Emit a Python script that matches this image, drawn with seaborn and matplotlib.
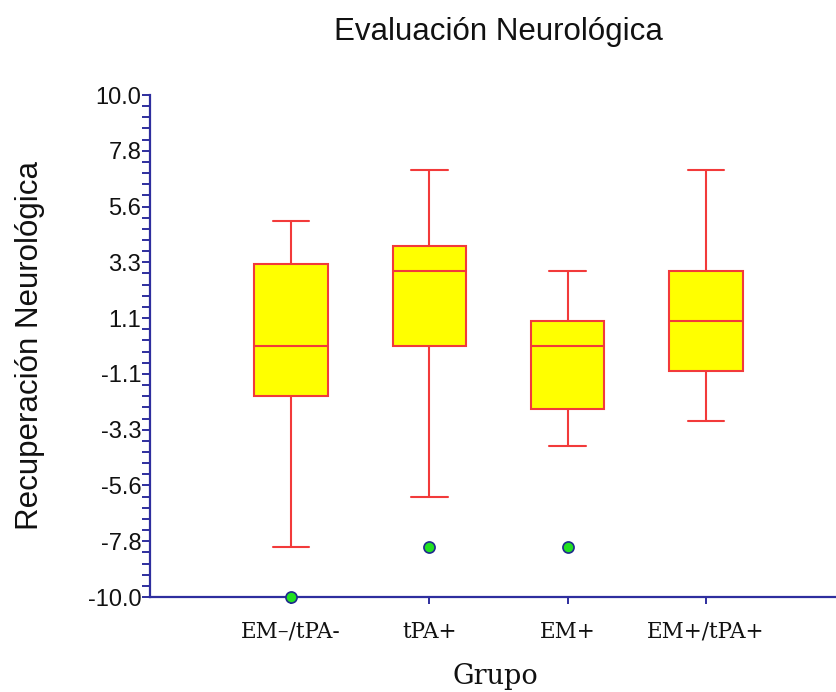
import numpy as np
import pandas as pd
import matplotlib
matplotlib.use("Agg")
import matplotlib.pyplot as plt
import seaborn as sns

# ── Data ────────────────────────────────────────────────────────────────────
GROUPS = ['EM–/tPA-', 'tPA+', 'EM+', 'EM+/tPA+']

# sample values chosen so quartiles / whiskers / outliers match the picture
em_neg_tpa_neg = [-10, -8, -2, -1, 0, 2, 3.25, 4, 5]
tpa_pos = [-8, -6, 0, 2, 3, 3.5, 4, 6, 7]
em_pos = [-8, -4, -2.5, -1, 0, 0.5, 1, 2, 3]
em_pos_tpa_pos = [-3, -2, -1, 0, 1, 2, 3, 5, 7]

Y_TICKS = np.linspace(-10, 10, 10)
Y_TICK_LABELS = ['-10.0', '-7.8', '-5.6', '-3.3', '-1.1', '1.1', '3.3', '5.6', '7.8', '10.0']

AXIS_BLUE = '#2E2E9E'
BOX_RED = '#F23A3A'
BOX_YELLOW = '#FFFF00'

df = pd.DataFrame({
    'grupo': np.repeat(GROUPS, [len(em_neg_tpa_neg), len(tpa_pos), len(em_pos), len(em_pos_tpa_pos)]),
    'valor': em_neg_tpa_neg + tpa_pos + em_pos + em_pos_tpa_pos,
})

sns.set_style('white')
plt.rcParams['font.family'] = ['Liberation Sans', 'DejaVu Sans']

fig = plt.figure(figsize=(8.36, 6.92), dpi=100)
ax = fig.add_axes([150 / 836, 1 - 597 / 692, 1 - 150 / 836, 502 / 692])

sns.boxplot(
    data=df, x='grupo', y='valor', order=GROUPS, ax=ax,
    color=BOX_YELLOW, saturation=1, width=0.53, linewidth=1.5,
    linecolor=BOX_RED, whis=1.5,
    flierprops=dict(marker='o', markerfacecolor='#22E022',
                    markeredgecolor='#1E2A8C', markersize=8,
                    markeredgewidth=1.2),
)

# keep the outlier sitting on the bottom spine fully visible
for line in ax.lines:
    if line.get_marker() == 'o':
        line.set_clip_on(False)
        line.set_zorder(5)

ax.set_xlim(-1.02, 3.94)
ax.set_ylim(-10, 10)

# axes styling
for side in ['top', 'right']:
    ax.spines[side].set_visible(False)
for side in ['left', 'bottom']:
    ax.spines[side].set_color(AXIS_BLUE)
    ax.spines[side].set_linewidth(1.6)

ax.set_yticks(Y_TICKS)
ax.set_yticklabels(Y_TICK_LABELS)
ax.yaxis.set_minor_locator(matplotlib.ticker.AutoMinorLocator(5))
ax.tick_params(axis='y', which='both', direction='out', length=5.8, width=1.4,
               color=AXIS_BLUE, left=True, pad=0.5, labelsize=17, labelcolor='#111111')
ax.tick_params(axis='x', which='major', direction='out', length=5, width=1.4,
               color=AXIS_BLUE, bottom=True, pad=12)
for lbl in ax.get_xticklabels():
    lbl.set_fontfamily('DejaVu Serif')
    lbl.set_fontsize(15.5)
    lbl.set_color('#111111')

ax.set_xlabel('')
ax.set_ylabel('')

# titles / axis labels
fig.text(498 / 836, 1 - 32 / 692, 'Evaluación Neurológica', ha='center', va='center',
         fontsize=22.5, color='#111111')
fig.text(30 / 836, 1 - 345 / 692, 'Recuperación Neurológica', ha='center', va='center',
         rotation=90, fontsize=22.5, color='#111111')
fig.text(495 / 836, 1 - 676 / 692, 'Grupo', ha='center', va='center',
         fontsize=19.5, family='DejaVu Serif', color='#111111')

fig.savefig('out.png', dpi=100)
